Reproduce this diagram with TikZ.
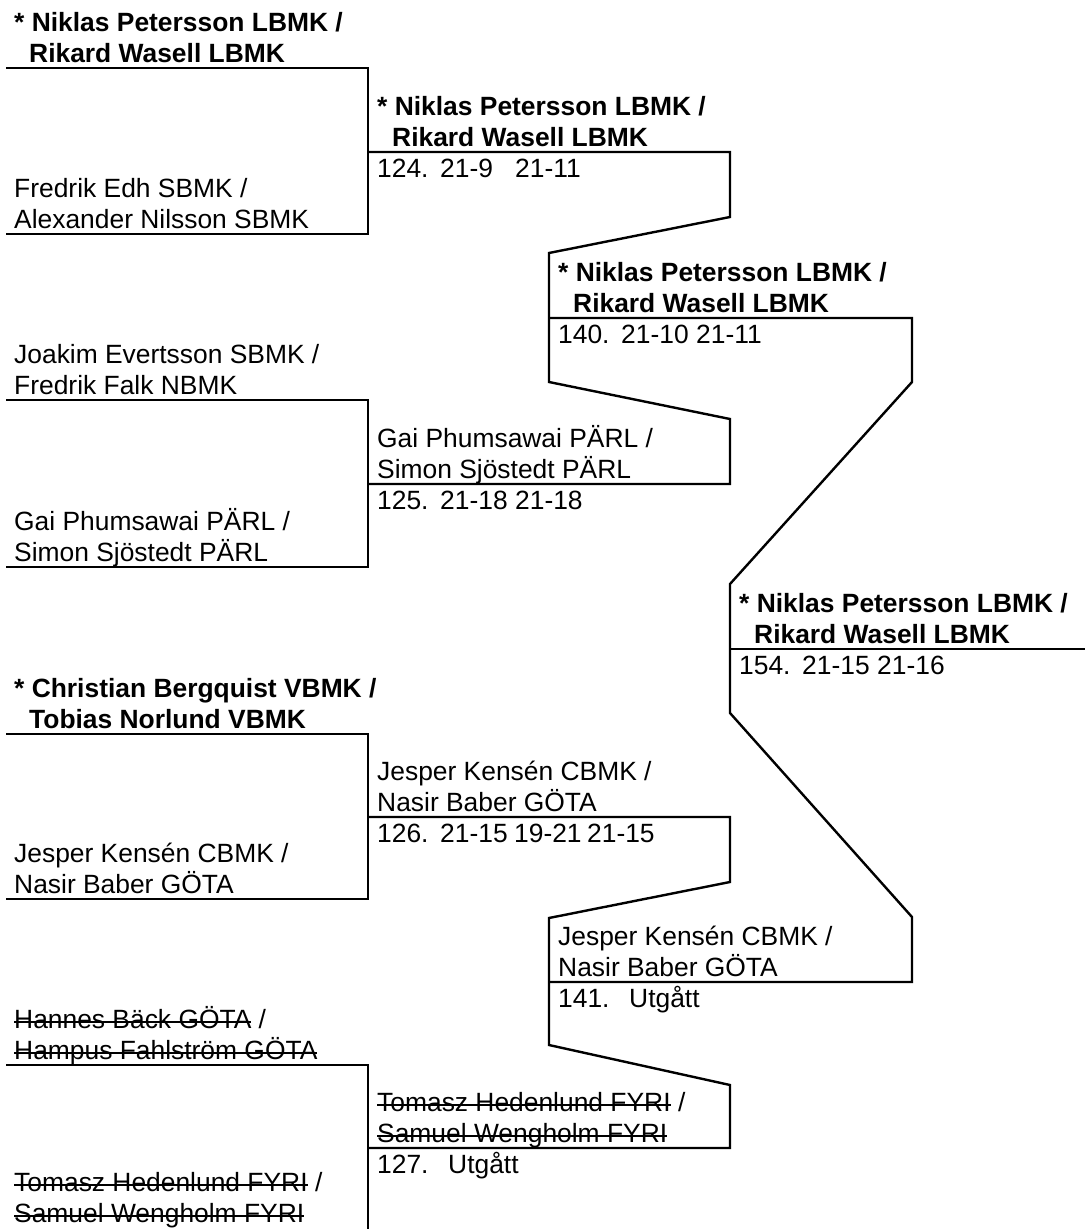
\documentclass[tikz,border=0pt]{standalone}
\usepackage{fontspec}
\setmainfont{Liberation Sans}
\newsavebox{\strikebox}
\newcommand{\struck}[1]{\sbox{\strikebox}{#1}\rlap{\usebox{\strikebox}}\rule[5.5pt]{\wd\strikebox}{2pt}}
\newcommand{\winpair}[2]{\textbf{* #1 /}\\\hspace*{15pt}\textbf{#2}\strut}
\newcommand{\teampair}[2]{#1 /\\#2\strut}
\newcommand{\outpair}[2]{\struck{#1} /\\\struck{#2}\strut}
\newcommand{\scorecell}[2]{\makebox[#1pt][l]{#2}}
\begin{document}
\begin{tikzpicture}[x=1pt,y=-1pt,
  brline/.style={line width=2.4pt},
  team/.style={anchor=south west,inner sep=0pt,align=left,font=\fontsize{26.4}{31}\selectfont},
  result/.style={anchor=base west,inner sep=0pt,font=\fontsize{26.4}{31}\selectfont}]
\clip (0,0) rectangle (1085,1229);
\coordinate (a1l) at (6,68);   \coordinate (a1r) at (368,68);
\coordinate (a2l) at (6,234);  \coordinate (a2r) at (368,234);
\coordinate (a3l) at (6,400);  \coordinate (a3r) at (368,400);
\coordinate (a4l) at (6,567);  \coordinate (a4r) at (368,567);
\coordinate (a5l) at (6,734);  \coordinate (a5r) at (368,734);
\coordinate (a6l) at (6,899);  \coordinate (a6r) at (368,899);
\coordinate (a7l) at (6,1065); \coordinate (a7r) at (368,1065);
\coordinate (a8l) at (6,1232); \coordinate (a8r) at (368,1232);
\coordinate (b1l) at (368,152);  \coordinate (b1r) at (730,152);
\coordinate (b2l) at (368,484);  \coordinate (b2r) at (730,484);
\coordinate (b3l) at (368,817);  \coordinate (b3r) at (730,817);
\coordinate (b4l) at (368,1148); \coordinate (b4r) at (730,1148);
\coordinate (b1dn) at (730,217); \coordinate (c1up) at (549,253);
\coordinate (c1dn) at (549,382); \coordinate (b2up) at (730,419);
\coordinate (b3dn) at (730,882); \coordinate (c2up) at (549,918);
\coordinate (c2dn) at (549,1045); \coordinate (b4up) at (730,1085);
\coordinate (c1l) at (549,318); \coordinate (c1r) at (912,318);
\coordinate (c2l) at (549,982); \coordinate (c2r) at (912,982);
\coordinate (c1rdn) at (912,382); \coordinate (d1up) at (730,584);
\coordinate (d1dn) at (730,713); \coordinate (c2rup) at (912,917);
\coordinate (d1l) at (730,649); \coordinate (d1r) at (1085,649);
\draw[brline] (a1l) -- (a1r) -- (a2r) -- (a2l);
\draw[brline] (a3l) -- (a3r) -- (a4r) -- (a4l);
\draw[brline] (a5l) -- (a5r) -- (a6r) -- (a6l);
\draw[brline] (a7l) -- (a7r) -- (a8r) -- (a8l);
\draw[brline] (b1l) -- (b1r) -- (b1dn) -- (c1up) -- (c1dn) -- (b2up) -- (b2r) -- (b2l);
\draw[brline] (b3l) -- (b3r) -- (b3dn) -- (c2up) -- (c2dn) -- (b4up) -- (b4r) -- (b4l);
\draw[brline] (c1l) -- (c1r) -- (c1rdn) -- (d1up) -- (d1dn) -- (c2rup) -- (c2r) -- (c2l);
\draw[brline] (d1l) -- (d1r);
\node[team] (pa1) at (14,72) {\winpair{Niklas Petersson LBMK}{Rikard Wasell LBMK}};
\node[team] (pa2) at (14,238) {\teampair{Fredrik Edh SBMK}{Alexander Nilsson SBMK}};
\node[team] (pa3) at (14,404) {\teampair{Joakim Evertsson SBMK}{Fredrik Falk NBMK}};
\node[team] (pa4) at (14,571) {\teampair{Gai Phumsawai PÄRL}{Simon Sjöstedt PÄRL}};
\node[team] (pa5) at (14,738) {\winpair{Christian Bergquist VBMK}{Tobias Norlund VBMK}};
\node[team] (pa6) at (14,903) {\teampair{Jesper Kensén CBMK}{Nasir Baber GÖTA}};
\node[team] (pa7) at (14,1069) {\outpair{Hannes Bäck GÖTA}{Hampus Fahlström GÖTA}};
\node[team] (pa8) at (14,1232) {\outpair{Tomasz Hedenlund FYRI}{Samuel Wengholm FYRI}};
\node[team] (pb1) at (377,156) {\winpair{Niklas Petersson LBMK}{Rikard Wasell LBMK}};
\node[team] (pb2) at (377,488) {\teampair{Gai Phumsawai PÄRL}{Simon Sjöstedt PÄRL}};
\node[team] (pb3) at (377,821) {\teampair{Jesper Kensén CBMK}{Nasir Baber GÖTA}};
\node[team] (pb4) at (377,1152) {\outpair{Tomasz Hedenlund FYRI}{Samuel Wengholm FYRI}};
\node[team] (pc1) at (558,322) {\winpair{Niklas Petersson LBMK}{Rikard Wasell LBMK}};
\node[team] (pc2) at (558,986) {\teampair{Jesper Kensén CBMK}{Nasir Baber GÖTA}};
\node[team] (pd1) at (739,653) {\winpair{Niklas Petersson LBMK}{Rikard Wasell LBMK}};
\node[result] (r124) at (377,177) {\scorecell{63}{124.}\scorecell{75}{21-9}21-11};
\node[result] (r125) at (377,509) {\scorecell{63}{125.}\scorecell{75}{21-18}21-18};
\node[result] (r126) at (377,842) {\scorecell{63}{126.}\scorecell{74}{21-15}\scorecell{73}{19-21}21-15};
\node[result] (r127) at (377,1173) {\scorecell{71}{127.}Utgått};
\node[result] (r140) at (558,343) {\scorecell{63}{140.}\scorecell{75}{21-10}21-11};
\node[result] (r141) at (558,1007) {\scorecell{71}{141.}Utgått};
\node[result] (r154) at (739,674) {\scorecell{63}{154.}\scorecell{75}{21-15}21-16};
\end{tikzpicture}
\end{document}
